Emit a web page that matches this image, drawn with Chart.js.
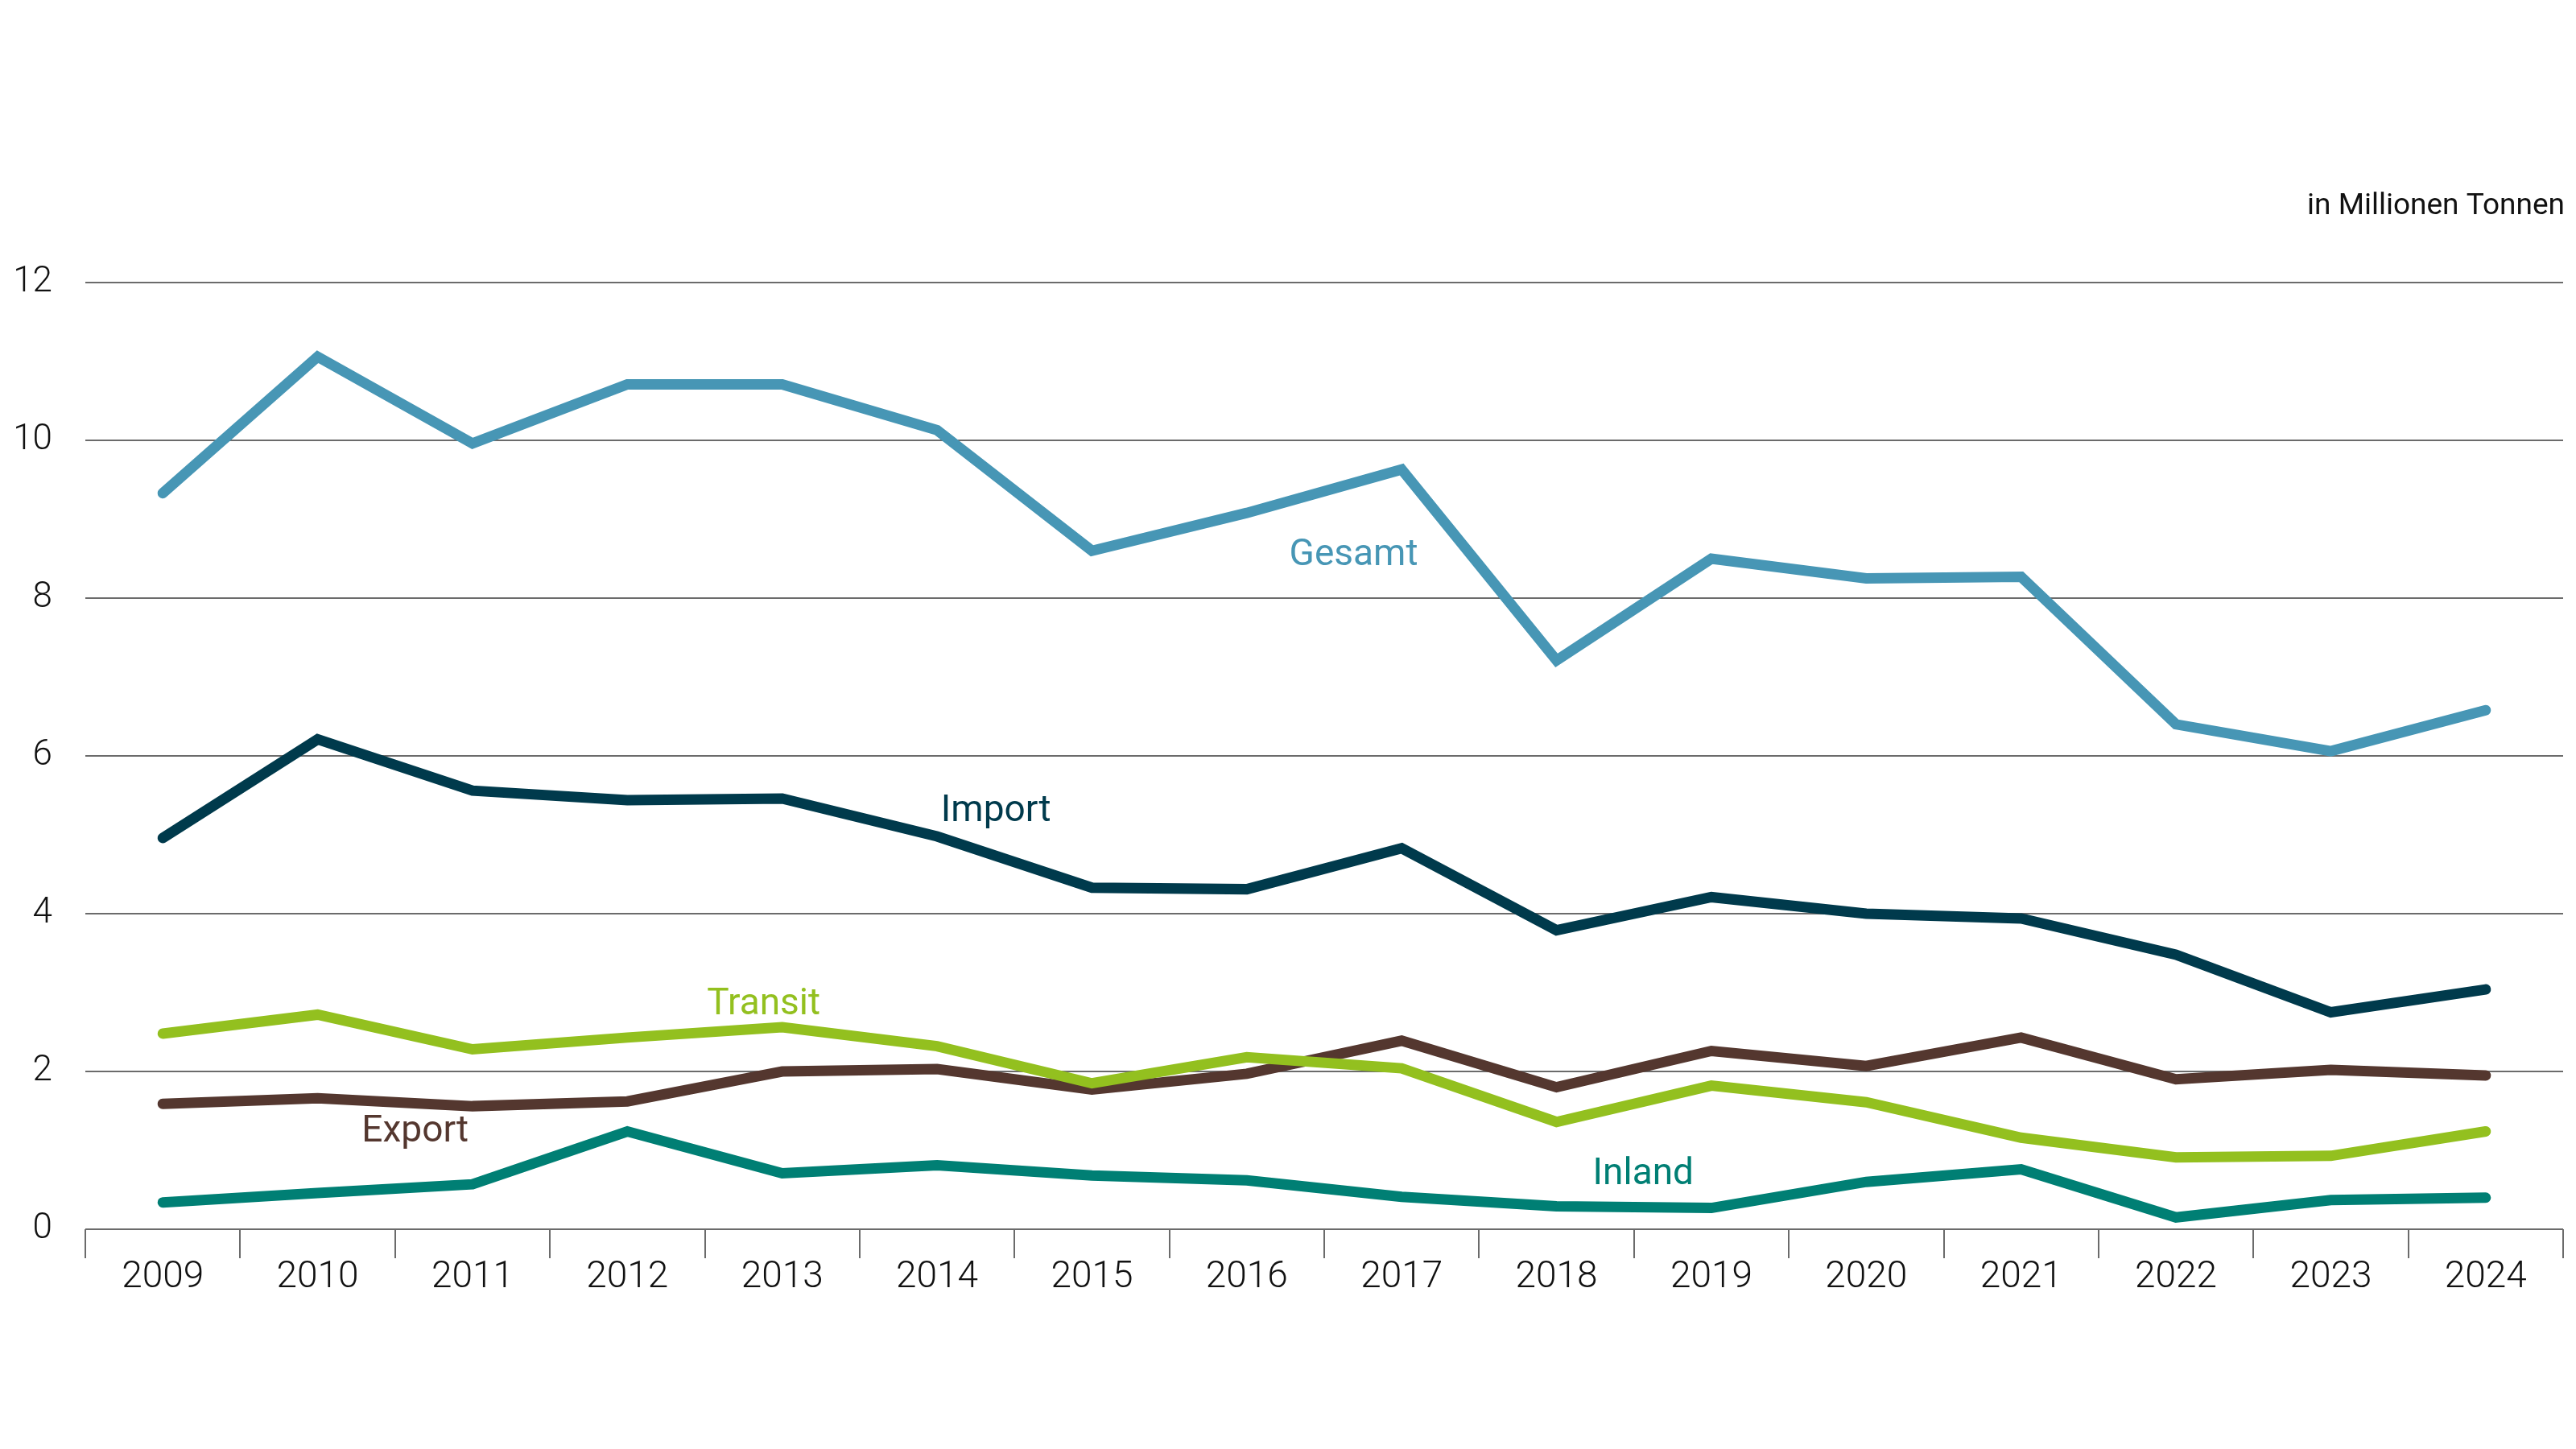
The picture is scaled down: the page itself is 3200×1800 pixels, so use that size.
<!DOCTYPE html>
<html>
<head>
<meta charset="utf-8">
<script src="https://cdn.jsdelivr.net/npm/chart.js@4/dist/chart.umd.min.js"></script>
<style>
  html, body { margin: 0; padding: 0; background: #fff; }
  canvas { display: block; }
</style>
</head>
<body>
<canvas id="chart" width="3200" height="1800" style="width:3200px;height:1800px"></canvas>
<script>
// Jahre und Werte in Millionen Tonnen
const years = ['2009', '2010', '2011', '2012', '2013', '2014', '2015', '2016', '2017', '2018', '2019', '2020', '2021', '2022', '2023', '2024'];
const gesamt  = [9.33, 11.06, 9.96, 10.71, 10.71, 10.13, 8.60, 9.08, 9.63, 7.21, 8.50, 8.25, 8.27, 6.40, 6.06, 6.58];
const importe = [4.96, 6.21, 5.56, 5.44, 5.46, 4.98, 4.33, 4.31, 4.83, 3.79, 4.21, 4.00, 3.94, 3.48, 2.75, 3.04];
const transit = [2.48, 2.72, 2.28, 2.43, 2.56, 2.32, 1.85, 2.18, 2.04, 1.36, 1.82, 1.61, 1.16, 0.91, 0.93, 1.24];
const exporte = [1.59, 1.66, 1.56, 1.62, 2.00, 2.03, 1.77, 1.97, 2.39, 1.80, 2.26, 2.07, 2.43, 1.90, 2.02, 1.95];
const inland  = [0.34, 0.46, 0.57, 1.24, 0.71, 0.81, 0.68, 0.62, 0.41, 0.29, 0.27, 0.60, 0.76, 0.15, 0.37, 0.40];
const yTicks  = [0, 2, 4, 6, 8, 10, 12];

const colors = {
    gesamt: '#4796b5',
    importe: '#003a4c',
    transit: '#93c01f',
    exporte: '#54372f',
    inland: '#007f74'
};

// Beschriftungen an den Linien (Position in Kategorie-Index / Wert)
const seriesLabels = [
    { text: 'Gesamt',  x: 7.69, y: 8.54, color: colors.gesamt },
    { text: 'Import',  x: 5.38, y: 5.29, color: colors.importe },
    { text: 'Transit', x: 3.88, y: 2.84, color: colors.transit },
    { text: 'Export',  x: 1.63, y: 1.23, color: colors.exporte },
    { text: 'Inland',  x: 9.56, y: 0.69, color: colors.inland }
];

const labelPlugin = {
    id: 'labels',
    afterDatasetsDraw(chart) {
        const { ctx, scales: { x, y } } = chart;
        ctx.save();
        ctx.font = '400 46px Roboto';
        ctx.textAlign = 'center';
        ctx.textBaseline = 'middle';
        seriesLabels.forEach(l => {
            ctx.fillStyle = l.color;
            ctx.fillText(l.text, x.getPixelForValue(l.x), y.getPixelForValue(l.y));
        });
        // Einheit oben rechts
        ctx.fillStyle = '#111';
        ctx.font = '400 37px Roboto';
        ctx.textAlign = 'right';
        ctx.fillText('in Millionen Tonnen', chart.chartArea.right + 2, 257);
        ctx.restore();
    }
};

const line = (data, color) => ({
    data: data,
    borderColor: color,
    backgroundColor: color,
    borderWidth: 13,
    borderCapStyle: 'round',
    borderJoinStyle: 'miter',
    pointRadius: 0,
    tension: 0,
    fill: false
});

const ctx = document.getElementById('chart').getContext('2d');
new Chart(ctx, {
    type: 'line',
    data: {
        labels: years,
        datasets: [
            line(gesamt, colors.gesamt),
            line(importe, colors.importe),
            line(transit, colors.transit),
            line(exporte, colors.exporte),
            line(inland, colors.inland)
        ]
    },
    options: {
        responsive: false,
        devicePixelRatio: 1,
        animation: false,
        layout: { padding: { top: 351, right: 16, bottom: 73, left: 0 } },
        plugins: { legend: { display: false }, tooltip: { enabled: false } },
        scales: {
            x: {
                offset: true,
                grid: {
                    offset: true,
                    drawOnChartArea: false,
                    drawTicks: true,
                    tickLength: 36,
                    color: '#6b6b6b',
                    lineWidth: 2
                },
                border: { display: false },
                ticks: {
                    color: '#111',
                    font: { family: 'Roboto', size: 46, weight: 300 },
                    padding: -3,
                    maxRotation: 0
                },
                afterFit(scale) { scale.height = 200; }
            },
            y: {
                min: 0,
                max: 12,
                afterBuildTicks(scale) { scale.ticks = yTicks.map(v => ({ value: v })); },
                grid: { color: '#6b6b6b', lineWidth: 2, drawTicks: false },
                border: { display: false },
                ticks: {
                    color: '#111',
                    font: { family: 'Roboto', size: 44, weight: 300 },
                    padding: 41
                },
                afterFit(scale) { scale.width = 106; }
            }
        }
    },
    plugins: [labelPlugin]
});
</script>
</body>
</html>
